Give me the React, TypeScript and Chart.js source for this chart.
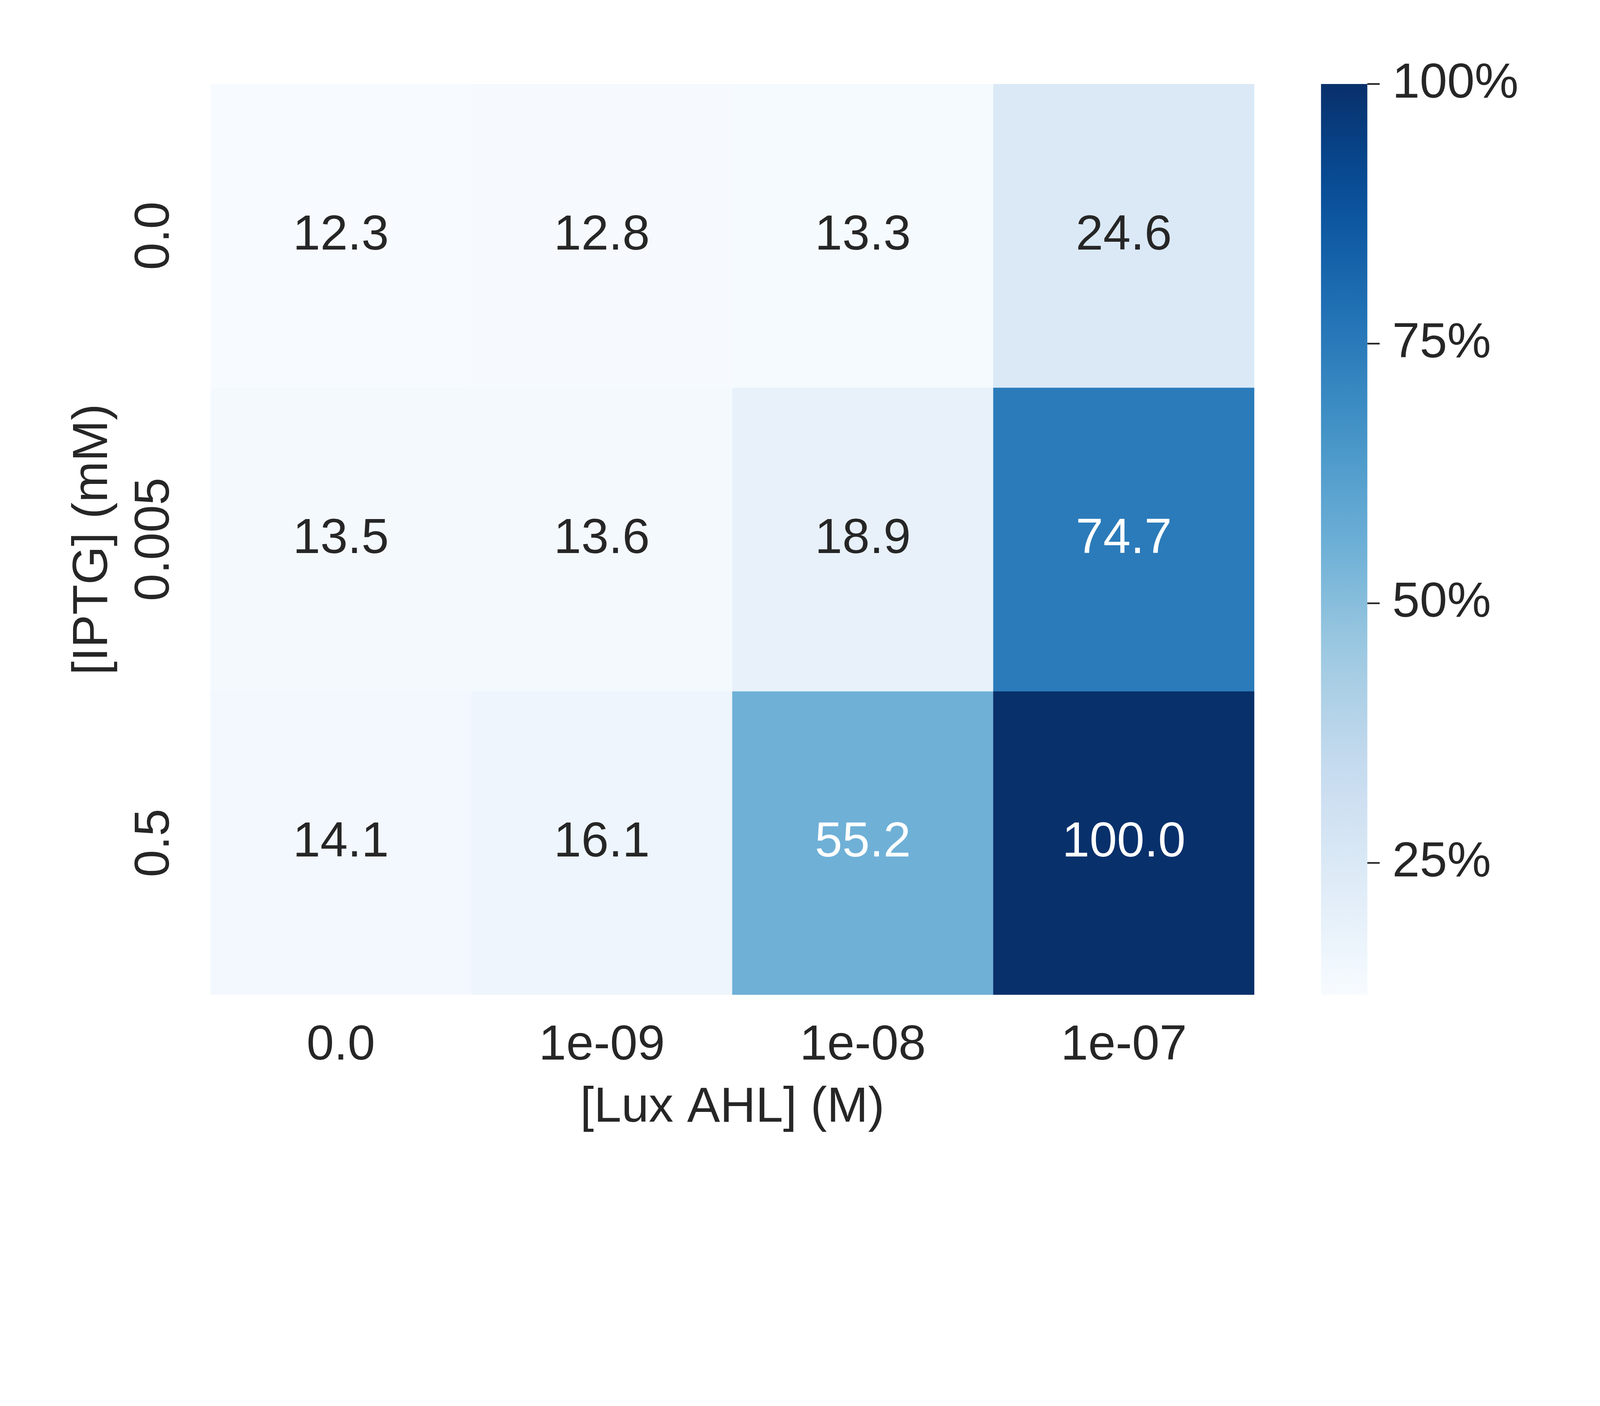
import React, { useEffect, useRef } from "react";
import { Chart, registerables } from "chart.js";
Chart.register(...registerables);

const xLabels = ["0.0", "1e-09", "1e-08", "1e-07"];
const yLabels = ["0.0", "0.005", "0.5"];
const row0 = [12.3, 12.8, 13.3, 24.6];
const row1 = [13.5, 13.6, 18.9, 74.7];
const row2 = [14.1, 16.1, 55.2, 100.0];
const rows = [row0, row1, row2];
const cbTicks = [25, 50, 75, 100];
const vmin = 12.3, vmax = 100;

const stops = ["#f7fbff", "#deebf7", "#c6dbef", "#9ecae1", "#6baed6", "#4292c6", "#2171b5", "#08519c", "#08306b"];
function hex(h: string) { return [1, 3, 5].map(i => parseInt(h.slice(i, i + 2), 16)); }
function cmap(t: number) {
  t = Math.max(0, Math.min(1, t));
  const p = t * (stops.length - 1);
  const i = Math.min(stops.length - 2, Math.floor(p));
  const f = p - i;
  const a = hex(stops[i]), b = hex(stops[i + 1]);
  const c = a.map((v, k) => Math.round(v + (b[k] - v) * f));
  return `rgb(${c[0]},${c[1]},${c[2]})`;
}
const norm = (v: number) => (v - vmin) / (vmax - vmin);
const FONT = "Liberation Sans, Arial, sans-serif";
const TXT = "#262626";

export default function App() {
  const ref = useRef<HTMLCanvasElement>(null);
  useEffect(() => {
    document.body.style.margin = "0";
    document.body.style.overflow = "hidden";
    const W = window.innerWidth, H = window.innerHeight;
    const s = Math.min(W / 4800, H / 3600);
    const canvas = ref.current!;
    canvas.style.width = 4800 * s + "px";
    canvas.style.height = 3600 * s + "px";
    const FS = 148 * s;
    const plugin = {
      id: "extras",
      afterDraw(chart: any) {
        const ctx = chart.ctx;
        const xs = chart.scales.x, ys = chart.scales.y;
        const ca = chart.chartArea;
        ctx.save();
        ctx.font = `${FS}px ${FONT}`;
        ctx.textAlign = "center";
        ctx.textBaseline = "middle";
        rows.forEach((r, ri) => r.forEach((v, ci) => {
          ctx.fillStyle = v > 50 ? "#ffffff" : TXT;
          ctx.fillText(v.toFixed(1), xs.getPixelForValue(ci), ys.getPixelForValue(ri + 0.5));
        }));
        ctx.fillStyle = TXT;
        xLabels.forEach((l, i) => ctx.fillText(l, xs.getPixelForValue(i), 3138 * s));
        ctx.fillText("[Lux AHL] (M)", (ca.left + ca.right) / 2, 3325 * s);
        yLabels.forEach((l, i) => {
          ctx.save();
          ctx.translate(465 * s, ys.getPixelForValue(i + 0.5));
          ctx.rotate(-Math.PI / 2);
          ctx.fillText(l, 0, 0);
          ctx.restore();
        });
        ctx.save();
        ctx.translate(280 * s, (ca.top + ca.bottom) / 2);
        ctx.rotate(-Math.PI / 2);
        ctx.fillText("[IPTG] (mM)", 0, 0);
        ctx.restore();
        const cx0 = 3963 * s, cx1 = 4102 * s, top = ca.top, bot = ca.bottom;
        const g = ctx.createLinearGradient(0, bot, 0, top);
        for (let k = 0; k <= 20; k++) g.addColorStop(k / 20, cmap(k / 20));
        ctx.fillStyle = g;
        ctx.fillRect(cx0, top, cx1 - cx0, bot - top);
        ctx.strokeStyle = TXT;
        ctx.lineWidth = 5 * s;
        ctx.textAlign = "left";
        ctx.fillStyle = TXT;
        cbTicks.forEach(t => {
          const y = bot - norm(t) * (bot - top);
          ctx.beginPath();
          ctx.moveTo(cx1, y);
          ctx.lineTo(cx1 + 37 * s, y);
          ctx.stroke();
          ctx.fillText(t + "%", cx1 + 75 * s, y);
        });
        ctx.restore();
      },
    };
    const chart = new Chart(canvas, {
      type: "bar",
      data: {
        labels: xLabels,
        datasets: rows.map((r, ri) => ({
          data: r.map(() => [ri, ri + 1] as [number, number]),
          backgroundColor: r.map(v => cmap(norm(v))),
          borderWidth: 0,
          barPercentage: 1.0,
          categoryPercentage: 1.0,
          grouped: false,
        })),
      },
      options: {
        animation: false,
        responsive: false,
        layout: { padding: { left: 631 * s, top: 252 * s, right: 1037 * s, bottom: 615 * s } },
        plugins: { legend: { display: false }, tooltip: { enabled: false } },
        scales: {
          x: { display: false, grid: { display: false } },
          y: { display: false, min: 0, max: 3, reverse: true, grid: { display: false } },
        },
      },
      plugins: [plugin],
    });
    return () => chart.destroy();
  }, []);
  return <canvas ref={ref} style={{ display: "block" }} />;
}
